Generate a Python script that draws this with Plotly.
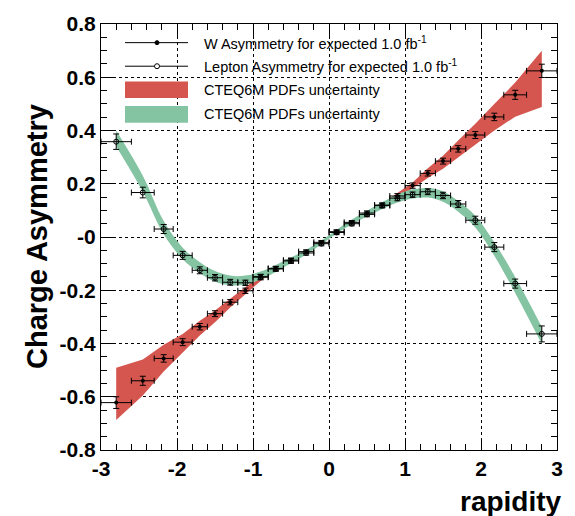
import plotly.graph_objects as go

# ---- data ----
rap = [-2.8, -2.45, -2.175, -1.925, -1.7, -1.5, -1.3, -1.1, -0.9, -0.7, -0.5, -0.3, -0.1,
       0.1, 0.3, 0.5, 0.7, 0.9, 1.1, 1.3, 1.5, 1.7, 1.925, 2.175, 2.45, 2.8]
rap_err = [0.2, 0.15, 0.125, 0.125, 0.1, 0.1, 0.1, 0.1, 0.1, 0.1, 0.1, 0.1, 0.1,
           0.1, 0.1, 0.1, 0.1, 0.1, 0.1, 0.1, 0.1, 0.1, 0.125, 0.125, 0.15, 0.2]

w_asym = [-0.622, -0.540, -0.456, -0.395, -0.337, -0.288, -0.245, -0.202, -0.149, -0.118, -0.087, -0.055, -0.020,
          0.020, 0.055, 0.090, 0.120, 0.154, 0.193, 0.239, 0.285, 0.331, 0.383, 0.451, 0.534, 0.624]
w_err = [0.022, 0.017, 0.014, 0.013, 0.012, 0.011, 0.010, 0.010, 0.009, 0.008, 0.008, 0.007, 0.007,
         0.007, 0.007, 0.008, 0.008, 0.009, 0.010, 0.010, 0.011, 0.012, 0.013, 0.014, 0.017, 0.025]

lep_asym = [0.358, 0.167, 0.030, -0.069, -0.125, -0.153, -0.170, -0.172, -0.151, -0.120, -0.090, -0.060, -0.025,
            0.017, 0.050, 0.085, 0.118, 0.146, 0.159, 0.170, 0.156, 0.124, 0.063, -0.038, -0.175, -0.364]
lep_err = [0.029, 0.020, 0.017, 0.015, 0.013, 0.012, 0.011, 0.010, 0.010, 0.009, 0.009, 0.008, 0.008,
           0.008, 0.008, 0.009, 0.009, 0.010, 0.010, 0.011, 0.012, 0.013, 0.015, 0.017, 0.017, 0.030]

w_band_lo = [-0.687, -0.595, -0.505, -0.432, -0.370, -0.320, -0.265, -0.215, -0.165, -0.125, -0.090, -0.058, -0.022,
             0.018, 0.052, 0.080, 0.110, 0.145, 0.183, 0.222, 0.256, 0.298, 0.345, 0.400, 0.452, 0.488]
w_band_hi = [-0.491, -0.460, -0.405, -0.364, -0.315, -0.276, -0.232, -0.190, -0.145, -0.110, -0.080, -0.052, -0.018,
             0.022, 0.058, 0.090, 0.125, 0.165, 0.205, 0.258, 0.305, 0.362, 0.425, 0.500, 0.580, 0.700]

lep_band_c = [0.370, 0.200, 0.035, -0.062, -0.115, -0.148, -0.163, -0.162, -0.145, -0.118, -0.088, -0.057, -0.020,
              0.020, 0.057, 0.088, 0.118, 0.145, 0.162, 0.166, 0.152, 0.115, 0.058, -0.045, -0.180, -0.370]
lep_band_hw = [0.030, 0.030, 0.025, 0.022, 0.020, 0.020, 0.018, 0.017, 0.015, 0.013, 0.011, 0.009, 0.007,
               0.007, 0.009, 0.011, 0.013, 0.015, 0.017, 0.018, 0.020, 0.020, 0.022, 0.025, 0.030, 0.032]

y_ticks = [-0.8, -0.6, -0.4, -0.2, 0.0, 0.2, 0.4, 0.6, 0.8]
y_ticktext = ["-0.8", "-0.6", "-0.4", "-0.2", "-0", "0.2", "0.4", "0.6", "0.8"]
x_ticks = [-3, -2, -1, 0, 1, 2, 3]

legend_labels = ["W Asymmetry for expected 1.0 fb<sup>-1</sup>",
                 "Lepton Asymmetry for expected 1.0 fb<sup>-1</sup>",
                 "CTEQ6M PDFs uncertainty",
                 "CTEQ6M PDFs uncertainty"]

RED = "#d5554f"
GREEN = "#84c4a2"
FONT = "Liberation Sans, Arial, sans-serif"

fig = go.Figure()

# red band (W)
fig.add_trace(go.Scatter(x=rap, y=w_band_lo, mode="lines", line=dict(width=0, color=RED),
                         showlegend=False, hoverinfo="skip"))
fig.add_trace(go.Scatter(x=rap, y=w_band_hi, mode="lines", line=dict(width=0, color=RED),
                         fill="tonexty", fillcolor=RED, showlegend=False, hoverinfo="skip"))

# green band (lepton)
lep_lo = [c - h for c, h in zip(lep_band_c, lep_band_hw)]
lep_hi = [c + h for c, h in zip(lep_band_c, lep_band_hw)]
fig.add_trace(go.Scatter(x=rap, y=lep_lo, mode="lines", line=dict(width=0, color=GREEN, shape="spline"),
                         showlegend=False, hoverinfo="skip"))
fig.add_trace(go.Scatter(x=rap, y=lep_hi, mode="lines", line=dict(width=0, color=GREEN, shape="spline"),
                         fill="tonexty", fillcolor=GREEN, showlegend=False, hoverinfo="skip"))

# data points
fig.add_trace(go.Scatter(
    x=rap, y=w_asym, mode="markers",
    marker=dict(symbol="circle", size=4, color="black"),
    error_x=dict(type="data", array=rap_err, color="black", thickness=1, width=3),
    error_y=dict(type="data", array=w_err, color="black", thickness=1, width=3),
    showlegend=False))
fig.add_trace(go.Scatter(
    x=rap, y=lep_asym, mode="markers",
    marker=dict(symbol="circle-open", size=5, color="black", line=dict(width=1, color="black")),
    error_x=dict(type="data", array=rap_err, color="black", thickness=1, width=3),
    error_y=dict(type="data", array=lep_err, color="black", thickness=1, width=3),
    showlegend=False))

# ---- manual legend (paper coords) ----
L, R, T, B = 101, 557, 16, 450
W_, H_ = R - L, B - T
def px(xp):
    return (xp - L) / W_
def py(yp):
    return (B - yp) / H_

rows = [35, 59, 83, 108]
shapes = []
for i in range(2):
    shapes.append(dict(type="line", xref="paper", yref="paper", x0=px(125), x1=px(188),
                       y0=py(rows[i]), y1=py(rows[i]), line=dict(color="black", width=1)))
shapes.append(dict(type="circle", xref="paper", yref="paper", xsizemode="pixel", ysizemode="pixel",
                   xanchor=px(157), yanchor=py(rows[0]), x0=-2, x1=2, y0=-2, y1=2,
                   fillcolor="black", line=dict(color="black", width=1)))
shapes.append(dict(type="circle", xref="paper", yref="paper", xsizemode="pixel", ysizemode="pixel",
                   xanchor=px(157), yanchor=py(rows[1]), x0=-2.5, x1=2.5, y0=-2.5, y1=2.5,
                   fillcolor="white", line=dict(color="black", width=1)))
for i, col in [(2, RED), (3, GREEN)]:
    shapes.append(dict(type="rect", xref="paper", yref="paper", x0=px(125), x1=px(188),
                       y0=py(rows[i] + 8.5), y1=py(rows[i] - 8.5), fillcolor=col,
                       line=dict(width=0)))

annotations = []
for i, lab in enumerate(legend_labels):
    annotations.append(dict(text=lab, xref="paper", yref="paper", x=px(202), y=py(rows[i]),
                            xanchor="left", yanchor="middle", showarrow=False,
                            font=dict(family=FONT, size=14.5, color="black")))

annotations.append(dict(text="<b>Charge Asymmetry</b>", xref="paper", yref="paper",
                        x=px(37), y=py(233), textangle=-90, showarrow=False,
                        xanchor="center", yanchor="middle",
                        font=dict(family=FONT, size=29, color="black")))
annotations.append(dict(text="<b>rapidity</b>", xref="paper", yref="paper",
                        x=px(564), y=py(502), showarrow=False,
                        xanchor="right", yanchor="middle",
                        font=dict(family=FONT, size=28, color="black")))

fig.update_layout(
    width=575, height=516,
    margin=dict(l=L, r=575 - R, t=T, b=516 - B),
    paper_bgcolor="white", plot_bgcolor="white",
    shapes=shapes, annotations=annotations, showlegend=False,
    font=dict(family=FONT, color="black"),
)
fig.update_xaxes(
    range=[-3, 3], tickvals=x_ticks, ticktext=["<b>%d</b>" % v for v in x_ticks],
    tickfont=dict(family=FONT, size=21, color="black"),
    showline=True, linecolor="black", linewidth=1, mirror="allticks",
    ticks="inside", ticklen=12, tickcolor="black", tickwidth=1,
    showgrid=True, gridcolor="black", griddash="dot", gridwidth=1, zeroline=False,
    minor=dict(dtick=0.2, ticks="inside", ticklen=6, tickcolor="black", showgrid=False),
)
fig.update_yaxes(
    range=[-0.8, 0.8], tickvals=y_ticks, ticktext=["<b>%s</b>" % t for t in y_ticktext],
    tickfont=dict(family=FONT, size=21, color="black"),
    showline=True, linecolor="black", linewidth=1, mirror="allticks",
    ticks="inside", ticklen=12, tickcolor="black", tickwidth=1,
    showgrid=True, gridcolor="black", griddash="dot", gridwidth=1, zeroline=False,
    minor=dict(dtick=0.05, ticks="inside", ticklen=6, tickcolor="black", showgrid=False),
)

fig.write_html("out.html")
